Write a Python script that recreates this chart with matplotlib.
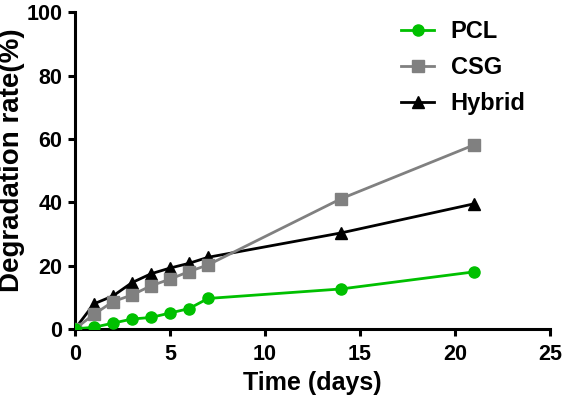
import matplotlib
matplotlib.use("Agg")
import matplotlib.pyplot as plt

days = [0, 1, 2, 3, 4, 5, 6, 7, 14, 21]
pcl = [0, 0.5, 1.8, 3.1, 3.6, 5.0, 6.4, 9.6, 12.6, 18.0]
csg = [0, 4.6, 8.6, 10.7, 13.6, 15.7, 18.1, 20.2, 41.1, 58.1]
hybrid = [0, 7.9, 10.4, 14.6, 17.4, 19.2, 20.7, 22.6, 30.3, 39.5]

plt.rcParams['font.family'] = ['Liberation Sans', 'DejaVu Sans']
plt.rcParams['font.weight'] = 'bold'

fig = plt.figure(figsize=(5.66, 4.08), dpi=100)
ax = fig.add_axes([0.1325, 0.194, 0.8395, 0.776])

ax.plot(days, hybrid, color='black', marker='^', markersize=8, lw=2, label='Hybrid', zorder=3)
ax.plot(days, csg, color='#808080', marker='s', markersize=8, lw=2, label='CSG', zorder=4)
ax.plot(days, pcl, color='#00c000', marker='o', markersize=8, lw=2, label='PCL', zorder=5)

ax.set_xlim(0, 25)
ax.set_ylim(0, 100)
ax.set_xticks([0, 5, 10, 15, 20, 25])
ax.set_yticks([0, 20, 40, 60, 80, 100])
for s in ['top', 'right']:
    ax.spines[s].set_visible(False)
for s in ['left', 'bottom']:
    ax.spines[s].set_linewidth(2.2)
ax.tick_params(width=2.2, length=5, labelsize=15.5, direction='out', pad=4)
ax.tick_params(axis='x', pad=6)
for lab in ax.get_xticklabels() + ax.get_yticklabels():
    lab.set_fontweight('bold')
ax.set_xlabel('Time (days)', fontsize=18, fontweight='bold', labelpad=4)
ax.set_ylabel('Degradation rate(%)', fontsize=20, fontweight='bold')
ax.yaxis.set_label_coords(-0.105, 0.533)

h, l = ax.get_legend_handles_labels()
leg = fig.legend(h[::-1], l[::-1], loc='upper left', frameon=False,
                 prop={'size': 17, 'weight': 'bold'}, handlelength=1.4,
                 handletextpad=0.7, labelspacing=0.55, borderpad=0,
                 borderaxespad=0, bbox_to_anchor=(401 / 566, 1 - 20 / 408))
ax.patch.set_visible(False)

fig.savefig('out.png', dpi=100)
